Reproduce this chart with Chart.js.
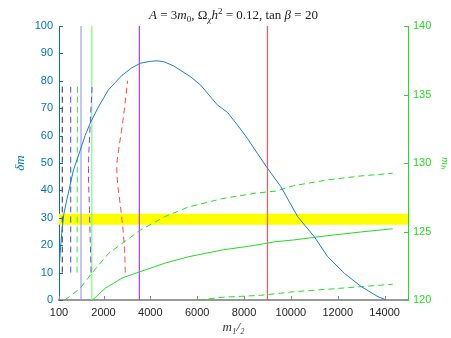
<!DOCTYPE html>
<html>
<head>
<meta charset="utf-8">
<script src="https://cdn.jsdelivr.net/npm/chart.js@4"></script>
<style>
  html, body { margin: 0; padding: 0; background: #fff; }
</style>
</head>
<body>
<canvas id="chart" width="451" height="338"></canvas>
<script>
// m_1/2 axis ticks and the two y axes
const xTicks = [100, 2000, 4000, 6000, 8000, 10000, 12000, 14000];
const dmTicks = [0, 10, 20, 30, 40, 50, 60, 70, 80, 90, 100];
const mhTicks = [120, 125, 130, 135, 140];

// delta m curve (left axis)
const dmX = [100, 150, 215, 300, 430, 500, 715, 1000, 1214, 1430, 1785, 2200, 2790, 3200, 3570, 4000, 4290, 4600, 5000, 5715, 6140, 6860, 7290, 7715, 8140, 8570, 9000, 9570, 10290, 11000, 11570, 12290, 13000, 13720, 14070];
const dmY = [10, 17, 24.3, 31, 36.5, 39, 47.4, 54.5, 60, 64.5, 70.5, 76.6, 82, 84.7, 86.4, 87.1, 87.3, 86.9, 85.4, 81.5, 78.5, 71.2, 68.5, 63.9, 59, 53.5, 48.1, 41.4, 30.4, 23.1, 15.8, 9.7, 4.9, 1.2, 0];

// yellow band on delta m
const band = [27.5, 31.5];

// solid vertical lines (m_1/2 values)
const vLines = [1040, 1500, 3530, 9000];

// dashed contours (left axis)
const blackX = [240, 240], blackY = [10, 79];
const blueX = [600, 600], blueY = [10, 79];
const greenDX = [870, 890], greenDY = [10, 79];
const purpleX = [1470, 1400, 1360, 1420, 1520], purpleY = [10, 33, 48, 62, 79];
const redX = [2930, 2900, 2850, 2780, 2690, 2610, 2570, 2650, 2790, 2910, 3030];
const redY = [10, 18, 24, 30, 36.5, 42, 49, 55, 63, 71, 80];

// m_h curves (right axis)
const mhUpX = [357, 1000, 1500, 2215, 3570, 4640, 5640, 7070, 8500, 9360, 10110, 11540, 12960, 14350];
const mhUpY = [120, 120.85, 121.95, 123.4, 125.1, 126.1, 126.8, 127.4, 127.8, 127.95, 128.34, 128.76, 129.05, 129.25];
const mhMidX = [1530, 2070, 2790, 3570, 4640, 5640, 7070, 8500, 9360, 10110, 11540, 12960, 14350];
const mhMidY = [120, 120.85, 121.6, 122.07, 122.7, 123.16, 123.65, 124.0, 124.26, 124.38, 124.69, 124.96, 125.2];
const mhLowX = [6070, 7070, 8700, 10110, 11540, 12960, 14350];
const mhLowY = [120, 120.2, 120.34, 120.6, 120.78, 120.97, 121.15];

const pts = (xs, ys) => xs.map((x, i) => ({ x: x, y: ys[i] }));

const blueC = "#0072BD";
const greenC = "#22dd22";

const vColors = ["#9d9dff", "#77ff77", "#a040f0", "#ff5555"];

const datasets = [];
// band (drawn behind)
datasets.push({ data: pts([100, 15000], [band[1], band[1]]), yAxisID: "y", borderWidth: 0, backgroundColor: "#ffff00", fill: "+1", order: 10 });
datasets.push({ data: pts([100, 15000], [band[0], band[0]]), yAxisID: "y", borderWidth: 0, fill: false, order: 10 });
vLines.forEach((v, i) => {
  datasets.push({ data: pts([v, v], [0, 100]), yAxisID: "y", borderColor: vColors[i], borderWidth: 1.2, order: 5 });
});
const dashed = [
  [blackX, blackY, "#333333"],
  [blueX, blueY, "#4a4aff"],
  [greenDX, greenDY, "#33ee33"],
  [purpleX, purpleY, "#9933ff"],
  [redX, redY, "#ff4444"],
];
dashed.forEach((d) => {
  datasets.push({ data: pts(d[0], d[1]), yAxisID: "y", borderColor: d[2], borderWidth: 1, borderDash: [6, 4], tension: 0.4, order: 4 });
});
datasets.push({ data: pts(dmX, dmY), yAxisID: "y", borderColor: "#1a7fcc", borderWidth: 1, order: 1 });
datasets.push({ data: pts(mhUpX, mhUpY), yAxisID: "y2", borderColor: greenC, borderWidth: 1, borderDash: [6, 4], order: 2 });
datasets.push({ data: pts(mhMidX, mhMidY), yAxisID: "y2", borderColor: greenC, borderWidth: 1, order: 2 });
datasets.push({ data: pts(mhLowX, mhLowY), yAxisID: "y2", borderColor: greenC, borderWidth: 1, borderDash: [6, 4], order: 2 });

const fixedTicks = (list) => (scale) => { scale.ticks = list.map((v) => ({ value: v })); };

// inward MATLAB-style tick marks
const inwardTicks = {
  id: "inwardTicks",
  afterDatasetsDraw(chart) {
    const { ctx, chartArea: a, scales } = chart;
    ctx.save();
    ctx.lineWidth = 1;
    ctx.strokeStyle = "#888";
    scales.x.ticks.forEach((t) => {
      const px = Math.round(scales.x.getPixelForValue(t.value)) + 0.5;
      ctx.beginPath(); ctx.moveTo(px, a.bottom); ctx.lineTo(px, a.bottom - 4); ctx.stroke();
    });
    ctx.strokeStyle = blueC;
    scales.y.ticks.forEach((t) => {
      const py = Math.round(scales.y.getPixelForValue(t.value)) + 0.5;
      ctx.beginPath(); ctx.moveTo(a.left, py); ctx.lineTo(a.left + 4, py); ctx.stroke();
    });
    ctx.strokeStyle = greenC;
    scales.y2.ticks.forEach((t) => {
      const py = Math.round(scales.y2.getPixelForValue(t.value)) + 0.5;
      ctx.beginPath(); ctx.moveTo(a.right, py); ctx.lineTo(a.right - 4, py); ctx.stroke();
    });
    ctx.restore();
  },
};

// title with italic math parts
const mathTitle = {
  id: "mathTitle",
  afterDraw(chart) {
    const { ctx, chartArea: a } = chart;
    const segs = [
      ["A", "i", 0], [" = 3", "n", 0], ["m", "i", 0], ["0", "s", 3],
      [", Ω", "n", 0], ["χ", "si", 3], ["h", "i", 0], ["2", "s", -5],
      [" = 0.12, tan ", "n", 0], ["β", "i", 0], [" = 20", "n", 0],
    ];
    const fontFor = (s) => {
      if (s === "i") return "italic 13px 'Liberation Serif', serif";
      if (s === "s") return "9px 'Liberation Serif', serif";
      if (s === "si") return "italic 9px 'Liberation Serif', serif";
      return "13px 'Liberation Serif', serif";
    };
    ctx.save();
    let w = 0;
    segs.forEach((s) => { ctx.font = fontFor(s[1]); w += ctx.measureText(s[0]).width; });
    let x = (a.left + a.right) / 2 - w / 2;
    ctx.fillStyle = "#222";
    ctx.textBaseline = "alphabetic";
    segs.forEach((s) => {
      ctx.font = fontFor(s[1]);
      ctx.fillText(s[0], x, 19 + s[2]);
      x += ctx.measureText(s[0]).width;
    });
    ctx.restore();
  },
};

const chart = new Chart(document.getElementById("chart"), {
  type: "line",
  data: { datasets: datasets },
  options: {
    responsive: false,
    animation: false,
    layout: { padding: { top: 26, left: 0, right: 0, bottom: 0 } },
    elements: { point: { radius: 0 } },
    plugins: { legend: { display: false }, tooltip: { enabled: false } },
    scales: {
      x: {
        type: "linear",
        min: 100,
        max: 15000,
        afterBuildTicks: fixedTicks(xTicks),
        afterFit: (s) => { s.height = 38; },
        grid: { display: false, drawTicks: false },
        border: { display: true, color: "#999", width: 2 },
        ticks: { padding: 6, color: "#262626", font: { family: "'Liberation Sans', Arial", size: 11 }, maxRotation: 0, autoSkip: false, callback: (v) => String(v) },
        title: { display: true, text: "m₁/₂", color: "#333", font: { family: "'Liberation Serif', serif", size: 13, style: "italic" }, padding: { top: 0, bottom: 3 } },
      },
      y: {
        position: "left",
        min: 0,
        max: 100,
        afterBuildTicks: fixedTicks(dmTicks),
        afterFit: (s) => { s.width = 59; },
        grid: { display: false, drawTicks: false },
        border: { display: true, color: blueC, width: 1 },
        ticks: { padding: 6, color: blueC, autoSkip: false, font: { family: "'Liberation Sans', Arial", size: 11 } },
        title: { display: true, text: "δm", color: blueC, font: { family: "'Liberation Serif', serif", size: 13, style: "italic" }, padding: { top: 13, bottom: 0 } },
      },
      y2: {
        position: "right",
        min: 120,
        max: 140,
        afterBuildTicks: fixedTicks(mhTicks),
        afterFit: (s) => { s.width = 43; },
        grid: { display: false, drawTicks: false },
        border: { display: true, color: greenC, width: 1 },
        ticks: { padding: 5, color: greenC, autoSkip: false, font: { family: "'Liberation Sans', Arial", size: 11 } },
        title: { display: true, text: "mₕ", color: greenC, font: { family: "'Liberation Serif', serif", size: 11, style: "italic" }, padding: { top: 0, bottom: 0 } },
      },
    },
  },
  plugins: [inwardTicks, mathTitle],
});
</script>
</body>
</html>
